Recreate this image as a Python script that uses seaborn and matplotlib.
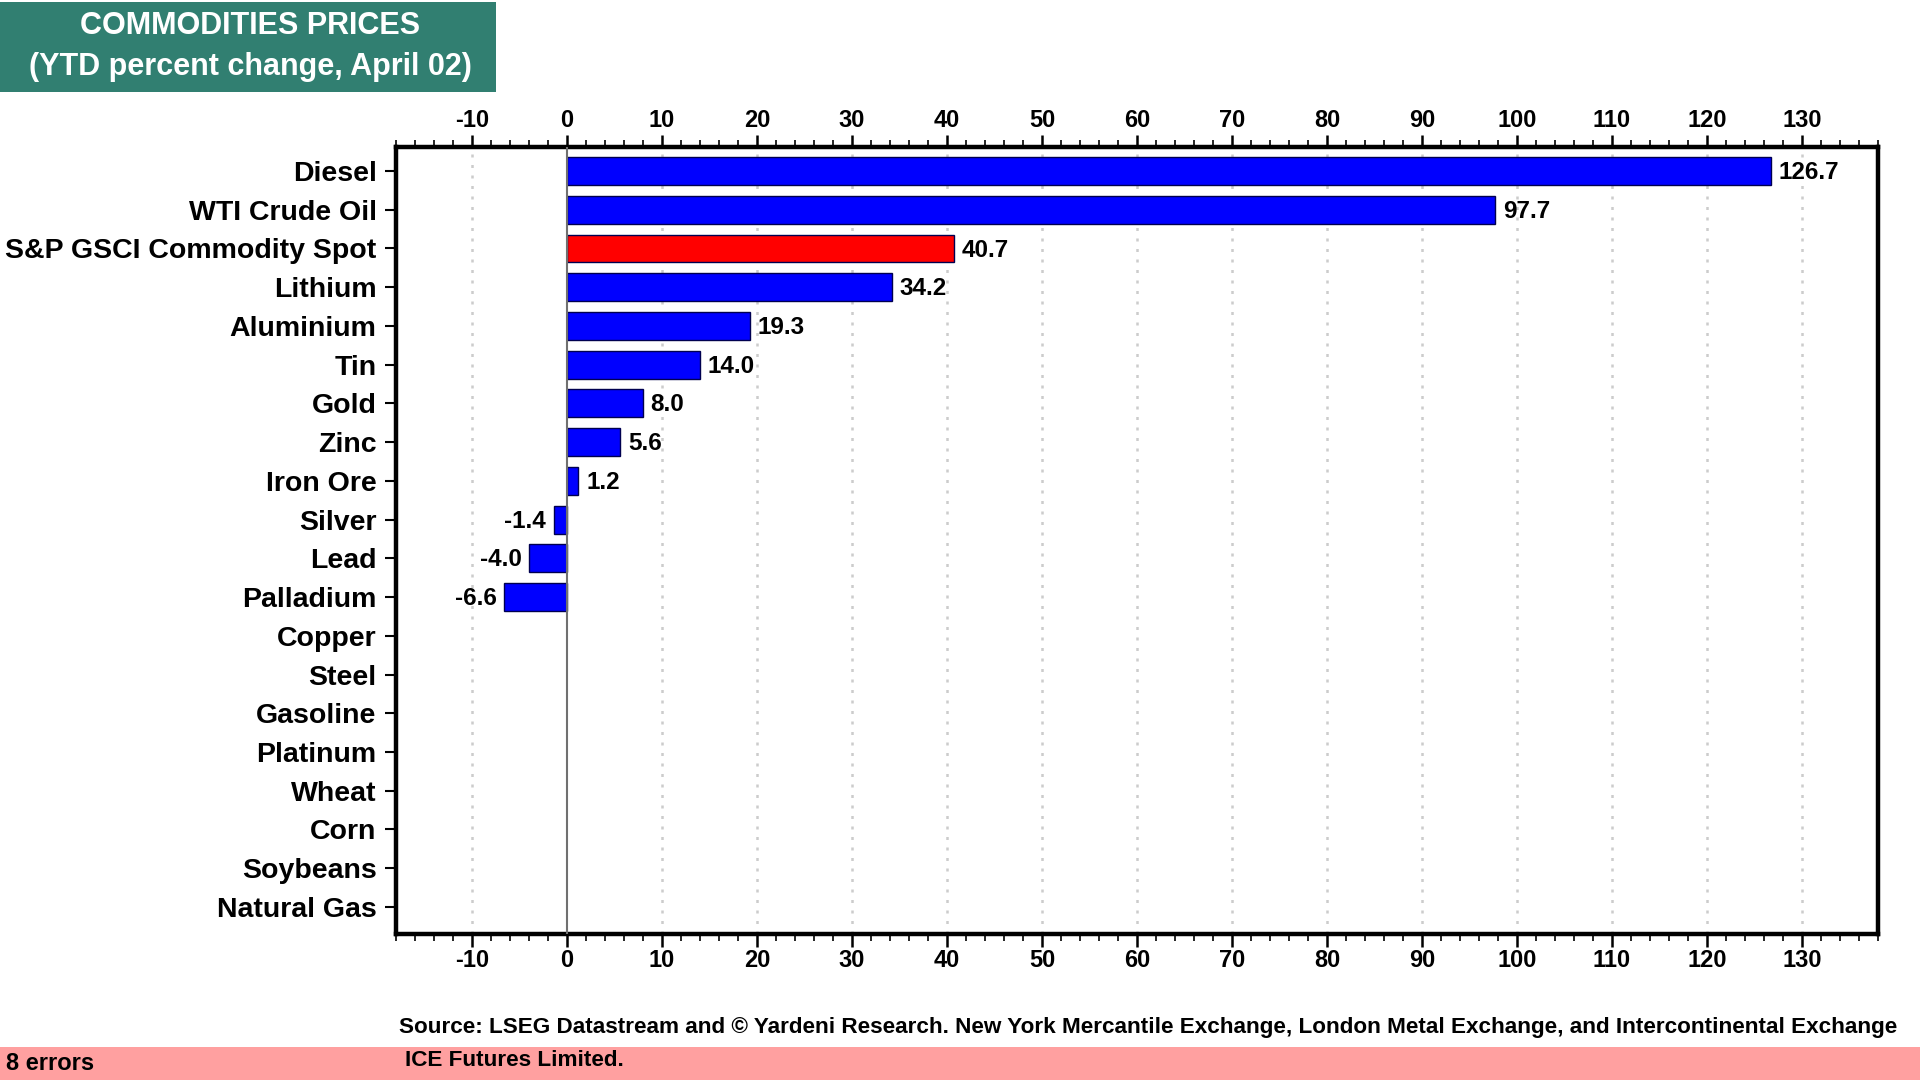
import matplotlib
matplotlib.use("Agg")
import matplotlib.pyplot as plt
from matplotlib.ticker import MultipleLocator
from matplotlib.patches import Rectangle
import seaborn as sns
import pandas as pd

# ---- data ----
categories = ["Diesel", "WTI Crude Oil", "S&P GSCI Commodity Spot", "Lithium", "Aluminium",
              "Tin", "Gold", "Zinc", "Iron Ore", "Silver", "Lead", "Palladium",
              "Copper", "Steel", "Gasoline", "Platinum", "Wheat", "Corn", "Soybeans", "Natural Gas"]
values = [126.7, 97.7, 40.7, 34.2, 19.3, 14.0, 8.0, 5.6, 1.2, -1.4, -4.0, -6.6,
          None, None, None, None, None, None, None, None]
highlight = "S&P GSCI Commodity Spot"
title_lines = ["COMMODITIES PRICES", "(YTD percent change, April 02)"]
source_lines = ["Source: LSEG Datastream and \u00a9 Yardeni Research. New York Mercantile Exchange, London Metal Exchange, and Intercontinental Exchange",
                "ICE Futures Limited."]
x_ticks = list(range(-10, 131, 10))

df = pd.DataFrame({"cat": categories, "val": values})
df_valid = df.dropna()
palette = {c: ("#FF0000" if c == highlight else "#0000FF") for c in categories}

sns.set_theme(style="white")
plt.rcParams["font.family"] = ["Liberation Sans", "DejaVu Sans"]
plt.rcParams["text.color"] = "black"
plt.rcParams["xtick.color"] = "black"
plt.rcParams["ytick.color"] = "black"
plt.rcParams["axes.labelcolor"] = "black"

fig = plt.figure(figsize=(19.2, 10.8), dpi=100)
ax = fig.add_axes([396/1920, 146/1080, 1482/1920, 787/1080])

sns.barplot(data=df_valid, y="cat", x="val", hue="cat", order=categories,
            palette=palette, legend=False, orient="h", width=0.72, saturation=1,
            edgecolor="#000050", linewidth=1.0, ax=ax, zorder=3)

ax.set_xlim(-18, 138)
ax.set_ylim(19.7, -0.62)
ax.set_xticks(x_ticks)
ax.xaxis.set_minor_locator(MultipleLocator(2))
ax.set_xlabel("")
ax.set_ylabel("")

for xt in x_ticks:
    if xt != 0:
        ax.axvline(xt, color="#cccccc", linestyle=(0, (1.2, 3)), linewidth=1.8, zorder=1)
ax.axvline(0, color="#707070", linewidth=1.5, zorder=4)

for sp in ax.spines.values():
    sp.set_linewidth(3.2)
    sp.set_color("black")
    sp.set_visible(True)

ax.tick_params(axis="x", which="major", top=True, bottom=True, labeltop=True, labelbottom=True,
               direction="out", length=9, width=1.8, color="black", pad=2,
               labelsize=17, labelcolor="black")
ax.tick_params(axis="x", which="minor", top=True, bottom=True, direction="out",
               length=5, width=1.2, color="black")
ax.tick_params(axis="y", which="major", left=True, direction="out", length=8, width=1.5,
               color="black", pad=6, labelsize=20.5, labelcolor="black")
ax.set_xticklabels([str(v) for v in x_ticks], fontweight="bold")
for lbl in ax.get_yticklabels():
    lbl.set_fontweight("bold")

# value labels
for i, (c, v) in enumerate(zip(categories, values)):
    if v is None:
        continue
    if v >= 0:
        ax.text(v + 0.8, i + 0.04, f"{v:.1f}", va="center", ha="left", fontsize=17.5,
                fontweight="bold", color="black", zorder=5)
    else:
        ax.text(v - 0.8, i + 0.04, f"{v:.1f}", va="center", ha="right", fontsize=17.5,
                fontweight="bold", color="black", zorder=5)

# title box
fig.patches.append(Rectangle((0, 1 - 92/1080), 496/1920, 90/1080, transform=fig.transFigure,
                             facecolor="#317F71", edgecolor="none", zorder=0))
fig.text(250/1920, 1 - 26/1080, title_lines[0], ha="center", va="center", color="white",
         fontsize=22, fontweight="bold")
fig.text(250/1920, 1 - 67/1080, title_lines[1], ha="center", va="center", color="white",
         fontsize=22, fontweight="bold")

# bottom pink band
fig.patches.append(Rectangle((0, 0), 1, 33/1080, transform=fig.transFigure,
                             facecolor="#FFA0A0", edgecolor="none", zorder=0))
fig.text(6/1920, 16/1080, "8 errors", ha="left", va="center", color="black", fontsize=17,
         fontweight="bold")

fig.text(399/1920, 1 - 1027/1080, source_lines[0], ha="left", va="center", color="black",
         fontsize=16.2, fontweight="bold")
fig.text(405/1920, 1 - 1060/1080, source_lines[1], ha="left", va="center", color="black",
         fontsize=16.2, fontweight="bold")

fig.savefig("out.png", dpi=100)
